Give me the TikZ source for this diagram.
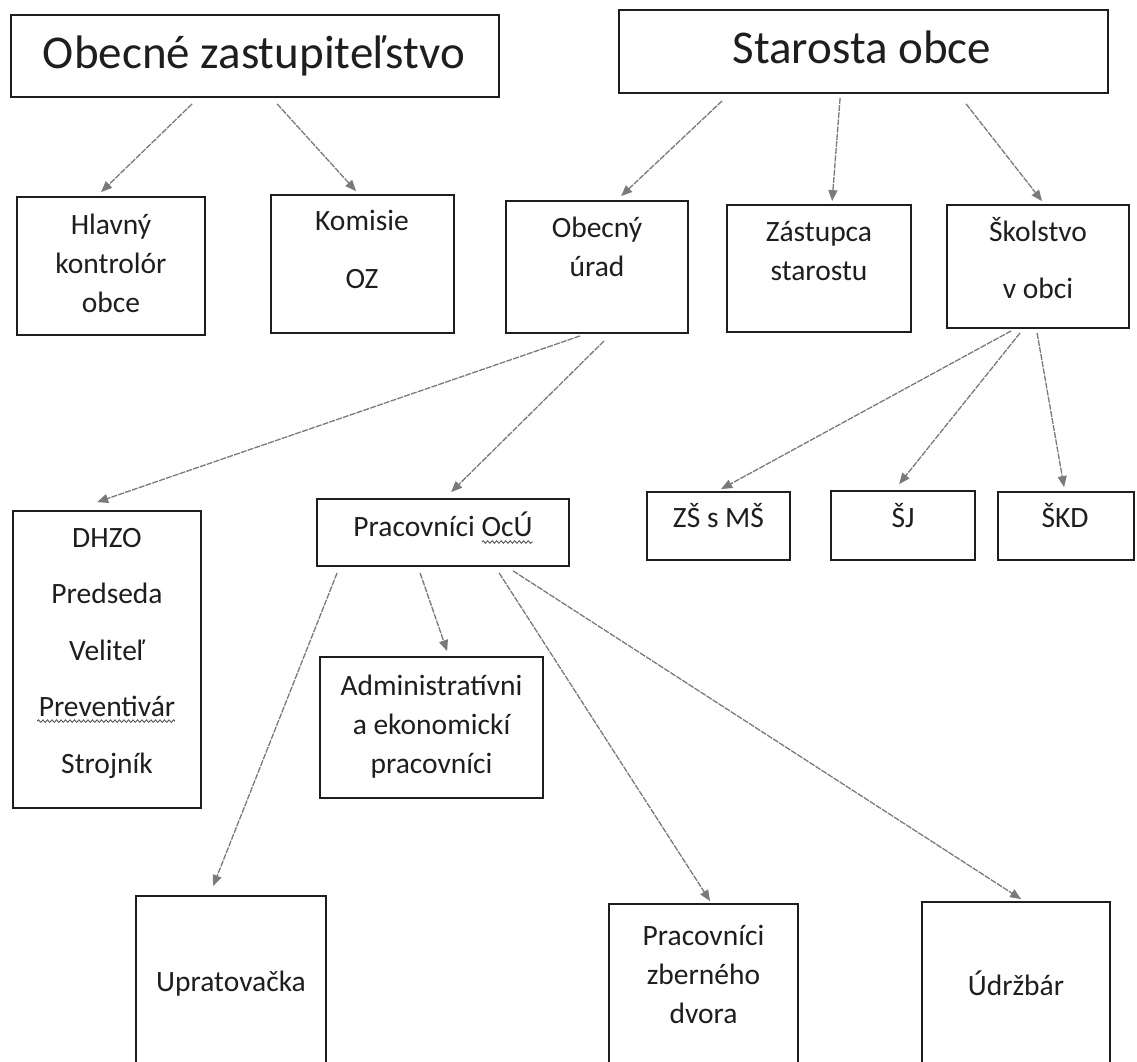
\documentclass[tikz,border=0pt]{standalone}
\usepackage{fontspec}
\setmainfont{Carlito}
\usetikzlibrary{arrows.meta,decorations.pathmorphing}
\definecolor{arrgray}{HTML}{7A7A7A}
\definecolor{ink}{HTML}{1E1E1E}
\begin{document}
\begin{tikzpicture}[x=1pt,y=-1pt,
  box/.style={draw=ink, line width=1.8pt, inner sep=0pt, rectangle},
  txt/.style={inner sep=0pt, align=center, text=ink, font=\fontsize{29.5}{39}\selectfont},
  bigtxt/.style={inner sep=0pt, align=center, text=ink, font=\fontsize{47}{56}\selectfont},
  arr/.style={draw=arrgray, line width=1.3pt, dash pattern=on 6pt off 1.2pt, -{Triangle[length=11pt,width=9pt]}},
  squig/.style={draw=ink!80, line width=0.8pt, decorate, decoration={snake, amplitude=1.3pt, segment length=4.5pt}}
]
\useasboundingbox (0,0) rectangle (1137,1061);
\fill[white] (0,0) rectangle (1137,1061);
\clip (0,0) rectangle (1137,1061);

% boxes
\node[box, minimum width=488pt, minimum height=82pt] (oz) at (255,56) {};
\node[box, minimum width=489pt, minimum height=83pt] (st) at (863.5,51.5) {};
\node[box, minimum width=188pt, minimum height=138pt] (hk) at (111,266) {};
\node[box, minimum width=183pt, minimum height=138pt] (ko) at (362.5,264) {};
\node[box, minimum width=182pt, minimum height=132pt] (ou) at (597,267) {};
\node[box, minimum width=184pt, minimum height=127pt] (za) at (819,268.5) {};
\node[box, minimum width=182pt, minimum height=123pt] (sk) at (1038,266.5) {};
\node[box, minimum width=188pt, minimum height=297pt] (dh) at (107,659.5) {};
\node[box, minimum width=252pt, minimum height=67pt] (pr) at (443,532.5) {};
\node[box, minimum width=143pt, minimum height=68pt] (zs) at (718.5,526) {};
\node[box, minimum width=144pt, minimum height=69pt] (sj) at (903,525.5) {};
\node[box, minimum width=136pt, minimum height=68pt] (skd) at (1066,526) {};
\node[box, minimum width=223pt, minimum height=141pt] (ad) at (431.5,727.5) {};
\node[box, minimum width=190pt, minimum height=184pt] (up) at (231,988) {};
\node[box, minimum width=189pt, minimum height=176pt] (zb) at (703.5,992) {};
\node[box, minimum width=188pt, minimum height=178pt] (ud) at (1016,991) {};

% texts
\node[bigtxt] (ozt) at (254,56.8) {\strut Obecné zastupiteľstvo};
\node[bigtxt] (stt) at (862,51.8) {\strut Starosta obce};
\node[txt] (hkt) at (111,265.2) {\strut Hlavný\\kontrolór\\obce\strut};
\node[txt] (kot) at (362,251.2) {\strut Komisie\\[19pt]OZ\strut};
\node[txt] (out) at (597,249.2) {\strut Obecný\\úrad\strut};
\node[txt] (zat) at (819,252.7) {\strut Zástupca\\starostu\strut};
\node[txt] (skt) at (1038,261.7) {\strut Školstvo\\[18pt]v obci\strut};
\node[txt] (dht) at (107,652.2) {\strut DHZO\\[17.5pt]Predseda\\[17.5pt]Veliteľ\\[17.5pt]Preventivár\\[17.5pt]Strojník\strut};
\node[txt] (prt) at (443,528.2) {\strut Pracovníci OcÚ};
\node[txt] (zst) at (718.5,519.2) {\strut ZŠ s MŠ};
\node[txt] (sjt) at (903,519.2) {\strut ŠJ};
\node[txt] (skdt) at (1065,519.2) {\strut ŠKD};
\node[txt] (adt) at (431.5,726.2) {\strut Administratívni\\a ekonomickí\\pracovníci\strut};
\node[txt] (upt) at (231,983.2) {\strut Upratovačka};
\node[txt] (zbt) at (703.5,976.2) {\strut Pracovníci\\zberného\\dvora\strut};
\node[txt] (udt) at (1016,987.2) {\strut Údržbár};

% spell-check squiggles
\draw[squig] ([xshift=-51pt,yshift=-6pt]prt.base east) -- ([yshift=-6pt]prt.base east);
\draw[squig] ([xshift=25pt,yshift=-211pt]dh.north west) -- ([xshift=163pt,yshift=-211pt]dh.north west);

% connectors
\draw[arr] ([xshift=182pt,yshift=-6pt]oz.south west) -- ([xshift=85pt,yshift=4pt]hk.north west);
\draw[arr] ([xshift=267pt,yshift=-6pt]oz.south west) -- ([xshift=86pt,yshift=3pt]ko.north west);
\draw[arr] ([xshift=104pt,yshift=-7pt]st.south west) -- ([xshift=116pt,yshift=4pt]ou.north west);
\draw[arr] ([xshift=222pt,yshift=-4pt]st.south west) -- ([xshift=106pt,yshift=3pt]za.north west);
\draw[arr] ([xshift=348pt,yshift=-10pt]st.south west) -- ([xshift=96pt,yshift=3pt]sk.north west);
\draw[arr] ([xshift=75pt,yshift=-2pt]ou.south west) -- ([xshift=85pt,yshift=8pt]dh.north west);
\draw[arr] ([xshift=99pt,yshift=-7pt]ou.south west) -- ([xshift=135pt,yshift=6pt]pr.north west);
\draw[arr] ([xshift=65pt,yshift=-2pt]sk.south west) -- ([xshift=75pt,yshift=2pt]zs.north west);
\draw[arr] ([xshift=74pt,yshift=-4pt]sk.south west) -- ([xshift=69pt,yshift=6pt]sj.north west);
\draw[arr] ([xshift=91pt,yshift=-4pt]sk.south west) -- ([xshift=67pt,yshift=4pt]skd.north west);
\draw[arr] ([xshift=21pt,yshift=-6pt]pr.south west) -- ([xshift=78pt,yshift=9pt]up.north west);
\draw[arr] ([xshift=104pt,yshift=-6pt]pr.south west) -- ([xshift=128pt,yshift=5pt]ad.north west);
\draw[arr] ([xshift=183pt,yshift=-6pt]pr.south west) -- ([xshift=102pt,yshift=2pt]zb.north west);
\draw[arr] ([xshift=197pt,yshift=-4pt]pr.south west) -- ([xshift=100pt,yshift=2pt]ud.north west);
\end{tikzpicture}
\end{document}
